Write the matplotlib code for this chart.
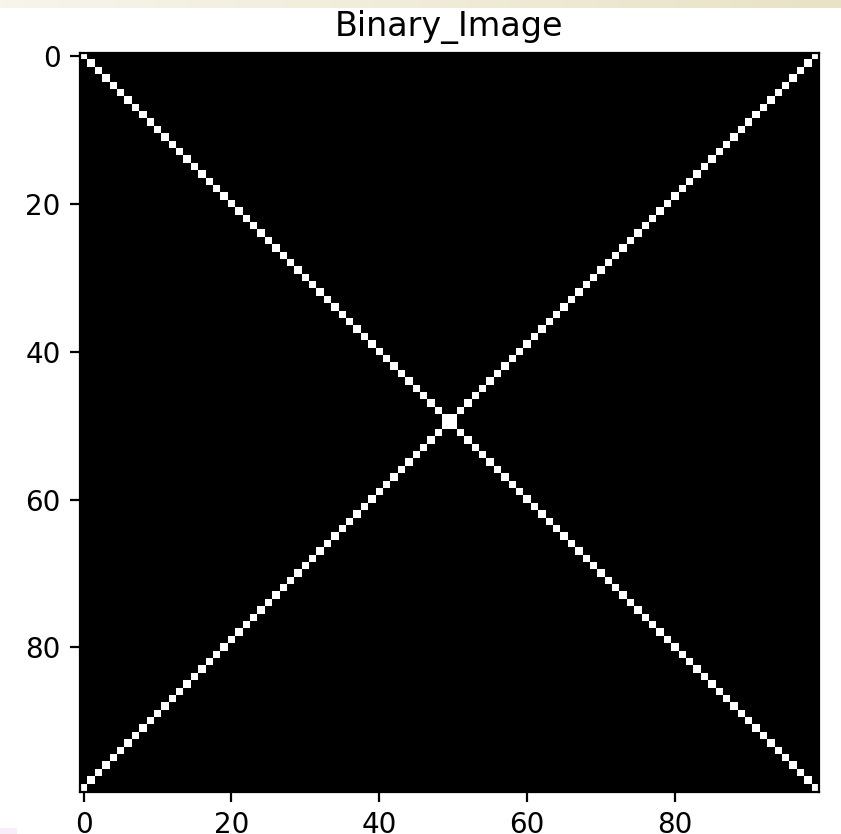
import numpy as np
import matplotlib
matplotlib.use("Agg")
import matplotlib.pyplot as plt
from matplotlib.patches import Rectangle

# 이미지 크기와 선 (대각선 + 역대각선)
size = 100
diag_rows = list(range(size))
diag_cols = list(range(size))
anti_cols = [size - 1 - r for r in diag_rows]

img = np.zeros((size, size))
img[diag_rows, diag_cols] = 1
img[diag_rows, anti_cols] = 1

W, H = 841, 834
fig = plt.figure(figsize=(W / 200, H / 200), dpi=200)

# 위쪽 베이지색 그라데이션 띠 (스크린샷 가장자리)
band = fig.add_axes([0, 1 - 8 / H, 1, 8 / H])
band.imshow(np.linspace(0, 1, 256)[None, :], aspect="auto",
            cmap=matplotlib.colors.LinearSegmentedColormap.from_list(
                "band", ["#f7f5ec", "#e8e3c6"]))
band.set_axis_off()

# 왼쪽 아래 분홍색 조각
fig.patches.append(Rectangle((0, 0), 17 / W, 6 / H, transform=fig.transFigure,
                             facecolor="#f8eef8", edgecolor="none"))

ax = fig.add_axes([80 / W, (H - 792) / H, 739 / W, 740 / H])
ax.imshow(img, cmap="gray", interpolation="nearest")
ax.set_title("Binary_Image")

fig.savefig("out.png", dpi=200)
